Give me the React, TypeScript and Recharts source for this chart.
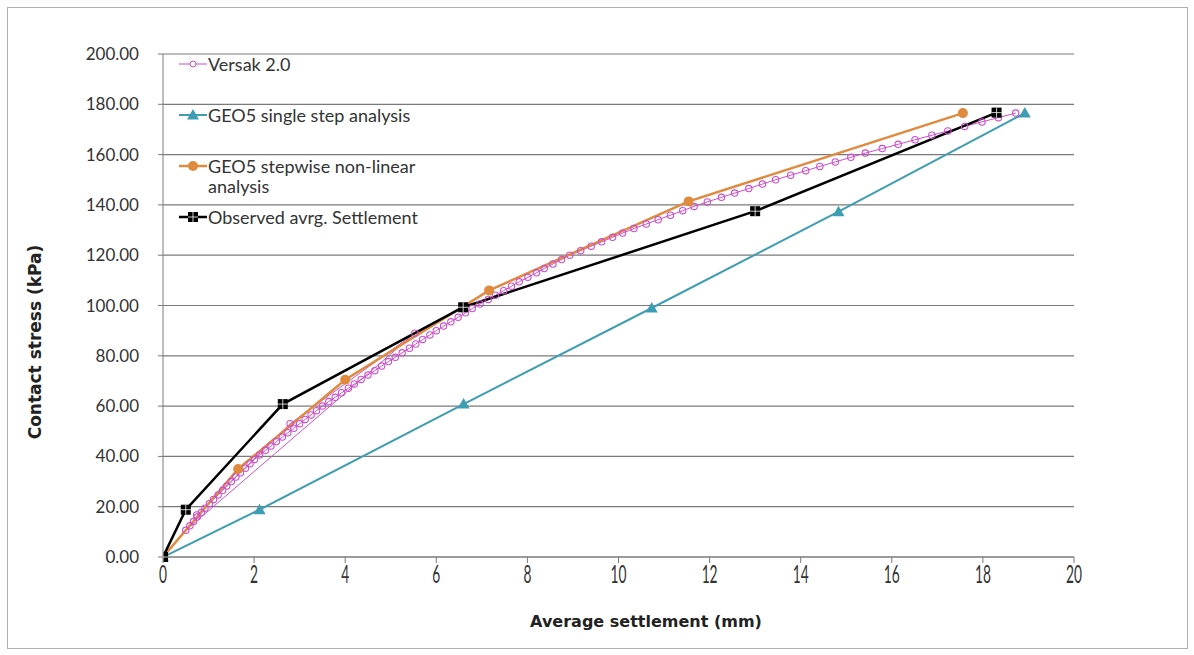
import { CartesianGrid, Label, Legend, Line, LineChart, XAxis, YAxis } from 'recharts';

// x = settlement (mm), y = contact stress (kPa)
const versakX = [
  0.74, 2.79, 5.53,
  0.5, 0.59, 0.67, 0.75, 0.84, 0.92, 1.02, 1.11, 1.21, 1.31, 1.4, 1.5, 1.6, 1.7, 1.81, 1.91, 2.01,
  2.12, 2.25, 2.37, 2.49, 2.62, 2.74, 2.87, 3.0, 3.12, 3.25, 3.37, 3.5, 3.64, 3.78, 3.92, 4.07, 4.2,
  4.35, 4.5, 4.65, 4.8, 4.95, 5.1, 5.25, 5.41, 5.55, 5.7, 5.86, 6.0, 6.16, 6.32, 6.48, 6.64, 6.79,
  6.96, 7.14, 7.3, 7.48, 7.65, 7.82, 8.01, 8.2, 8.37, 8.56, 8.75, 8.93, 9.17, 9.4, 9.63, 9.87, 10.09,
  10.34, 10.61, 10.87, 11.14, 11.41, 11.66, 11.95, 12.26, 12.55, 12.86, 13.16, 13.45, 13.78, 14.11,
  14.42, 14.76, 15.1, 15.42, 15.79, 16.14, 16.51, 16.88, 17.23, 17.6, 17.98, 18.34, 18.72,
];
const versakY = [
  16.7, 53.0, 89.0,
  10.6, 12.4, 14.1, 15.9, 17.7, 19.4, 21.2, 22.9, 24.7, 26.5, 28.2, 30.0, 31.8, 33.5, 35.3, 37.1, 38.8,
  40.6, 42.4, 44.1, 45.9, 47.7, 49.4, 51.2, 53.0, 54.7, 56.5, 58.2, 60.0, 61.8, 63.5, 65.3, 67.1, 68.8,
  70.6, 72.4, 74.1, 75.9, 77.7, 79.4, 81.2, 83.0, 84.7, 86.5, 88.3, 90.0, 91.8, 93.5, 95.3, 97.1, 98.8,
  100.6, 102.4, 104.1, 105.9, 107.7, 109.4, 111.2, 113.0, 114.7, 116.5, 118.3, 120.0, 121.8, 123.6, 125.3, 127.1, 128.8,
  130.6, 132.4, 134.1, 135.9, 137.7, 139.4, 141.2, 143.0, 144.7, 146.5, 148.3, 150.0, 151.8, 153.6,
  155.3, 157.1, 158.9, 160.6, 162.4, 164.1, 165.9, 167.7, 169.4, 171.2, 173.0, 174.7, 176.5,
];

const singleStepX = [0, 2.12, 6.6, 10.73, 14.83, 18.92];
const singleStepY = [0, 18.8, 60.8, 99.0, 137.3, 176.5];

const stepwiseX = [0, 1.65, 4.0, 7.16, 11.54, 17.56];
const stepwiseY = [0, 35.0, 70.5, 106.0, 141.4, 176.5];

const observedX = [0, 0.5, 2.63, 6.59, 13.0, 18.3];
const observedY = [0, 18.8, 60.8, 99.3, 137.5, 176.7];

const xTicks = [0, 2, 4, 6, 8, 10, 12, 14, 16, 18, 20];
const yTicks = [0, 20, 40, 60, 80, 100, 120, 140, 160, 180, 200];

const zip = (xs: number[], ys: number[]) => xs.map((x, i) => ({ x, y: ys[i] }));

const versakData = zip(versakX, versakY);
const singleStepData = zip(singleStepX, singleStepY);
const stepwiseData = zip(stepwiseX, stepwiseY);
const observedData = zip(observedX, observedY);

const PINK = '#CC4FCC';
const TEAL = '#3F9DB3';
const ORANGE = '#E08A3E';
const BLACK = '#000000';
const FONT = 'Lato, "DejaVu Sans", sans-serif';

const SquareDot = (props: any) => {
  const { cx, cy, index } = props;
  if (cx == null || cy == null) return null;
  return (
    <g key={`sq-${index}`}>
      <rect x={cx - 5} y={cy - 5} width={10} height={10} fill={BLACK} />
      <line x1={cx} x2={cx} y1={cy - 5} y2={cy + 5} stroke="#fff" strokeWidth={0.8} />
      <line x1={cx - 5} x2={cx + 5} y1={cy} y2={cy} stroke="#fff" strokeWidth={0.8} />
    </g>
  );
};

const TriangleDot = (props: any) => {
  const { cx, cy, index } = props;
  if (cx == null || cy == null) return null;
  return (
    <path
      key={`tri-${index}`}
      d={`M${cx},${cy - 6} L${cx + 6},${cy + 4.5} L${cx - 6},${cy + 4.5} Z`}
      fill={TEAL}
    />
  );
};

const legendItems = [
  { label: ['Versak 2.0'], color: PINK, marker: 'circleOpen', width: 1 },
  { label: ['GEO5 single step analysis'], color: TEAL, marker: 'triangle', width: 2 },
  { label: ['GEO5 stepwise non-linear', 'analysis'], color: ORANGE, marker: 'circle', width: 2.5 },
  { label: ['Observed avrg. Settlement'], color: BLACK, marker: 'square', width: 2.5 },
];

const LegendIcon = ({ marker, color, width }: { marker: string; color: string; width: number }) => (
  <svg width={30} height={14} style={{ flex: 'none' }}>
    <line x1={1} x2={29} y1={7} y2={7} stroke={color} strokeWidth={width} />
    {marker === 'circleOpen' && <circle cx={15} cy={7} r={3} fill="#fff" stroke={color} strokeWidth={1} />}
    {marker === 'circle' && <circle cx={15} cy={7} r={5} fill={color} />}
    {marker === 'triangle' && <path d="M15,1 L21,11.5 L9,11.5 Z" fill={color} />}
    {marker === 'square' && (
      <g>
        <rect x={10} y={2} width={10} height={10} fill={color} />
        <line x1={15} x2={15} y1={2} y2={12} stroke="#fff" strokeWidth={0.8} />
        <line x1={10} x2={20} y1={7} y2={7} stroke="#fff" strokeWidth={0.8} />
      </g>
    )}
  </svg>
);

const CustomLegend = () => (
  <div style={{ fontFamily: FONT, fontSize: 18, color: '#333', width: 280 }}>
    {legendItems.map((item) => (
      <div key={item.label[0]} style={{ display: 'flex', alignItems: 'flex-start', height: 51 }}>
        <LegendIcon marker={item.marker} color={item.color} width={item.width} />
        <div style={{ lineHeight: '20px', marginTop: -3 }}>
          {item.label.map((l) => (
            <div key={l}>{l}</div>
          ))}
        </div>
      </div>
    ))}
  </div>
);

const XTick = ({ x, y, payload }: any) => (
  <text
    transform={`translate(${x}, ${y + 18}) scale(0.55, 1)`}
    textAnchor="middle"
    fontFamily={FONT}
    fontSize={25}
    fill="#333"
  >
    {payload.value}
  </text>
);

const YTitle = () => (
  <text
    x={35}
    y={342}
    transform="rotate(-90, 35, 342)"
    textAnchor="middle"
    dominantBaseline="central"
    fontFamily='"DejaVu Sans", sans-serif'
    fontWeight="bold"
    fontSize={17}
    fill="#222"
  >
    Contact stress (kPa)
  </text>
);

const XTitle = () => (
  <text
    x={646}
    y={621}
    textAnchor="middle"
    dominantBaseline="central"
    fontFamily='"DejaVu Sans", sans-serif'
    fontWeight="bold"
    fontSize={16}
    fill="#222"
  >
    Average settlement (mm)
  </text>
);

export default function App() {
  return (
    <div style={{ position: 'absolute', left: 0, top: 0, width: 1194, height: 655, background: '#fff' }}>
      <div
        style={{
          position: 'absolute',
          left: 7,
          top: 7,
          width: 1179,
          height: 640,
          border: '1px solid #b0b0b0',
        }}
      />
      <div style={{ position: 'absolute', left: 0, top: 0 }}>
        <LineChart width={1194} height={655} margin={{ top: 54, right: 120, bottom: 18, left: 0 }}>
          <CartesianGrid vertical={false} stroke="#7a7a7a" strokeWidth={1.2} />
          <XAxis
            type="number"
            dataKey="x"
            domain={[0, 20]}
            ticks={xTicks}
            height={80}
            tick={<XTick />}
            tickSize={6}
            stroke="#7a7a7a"
            allowDataOverflow
          >
            <Label content={<XTitle />} />
          </XAxis>
          <YAxis
            type="number"
            dataKey="y"
            domain={[0, 200]}
            ticks={yTicks}
            width={163}
            tickSize={5}
            tickMargin={19}
            tickFormatter={(v: number) => v.toFixed(2)}
            tick={{ fontFamily: FONT, fontSize: 17, fill: '#333' }}
            stroke="#7a7a7a"
          >
            <Label content={<YTitle />} />
          </YAxis>
          <Legend
            layout="vertical"
            align="center"
            verticalAlign="middle"
            wrapperStyle={{ top: 57, left: 178, width: 280 }}
            content={<CustomLegend />}
          />
          <Line
            data={versakData}
            dataKey="y"
            name="Versak 2.0"
            stroke={PINK}
            strokeWidth={1}
            dot={{ r: 3.2, fill: 'none', stroke: PINK, strokeWidth: 1.1 }}
            isAnimationActive={false}
          />
          <Line
            data={singleStepData}
            dataKey="y"
            name="GEO5 single step analysis"
            stroke={TEAL}
            strokeWidth={2}
            dot={<TriangleDot />}
            isAnimationActive={false}
          />
          <Line
            data={stepwiseData}
            dataKey="y"
            name="GEO5 stepwise non-linear analysis"
            stroke={ORANGE}
            strokeWidth={2.5}
            dot={{ r: 5, fill: ORANGE, stroke: ORANGE, strokeWidth: 0 }}
            isAnimationActive={false}
          />
          <Line
            data={observedData}
            dataKey="y"
            name="Observed avrg. Settlement"
            stroke={BLACK}
            strokeWidth={2.5}
            dot={<SquareDot />}
            isAnimationActive={false}
          />
        </LineChart>
      </div>
    </div>
  );
}
